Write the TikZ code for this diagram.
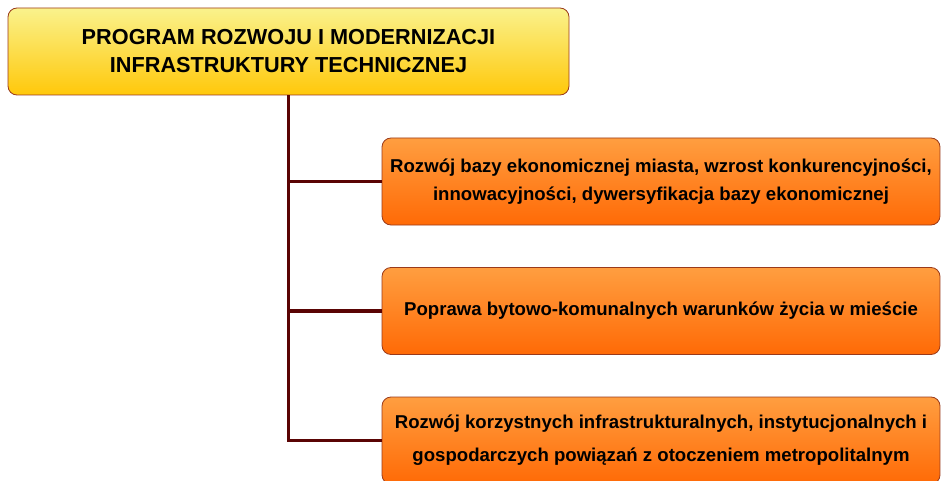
\documentclass[tikz,border=0pt]{standalone}
\usepackage{fontspec}
\setmainfont{Liberation Sans}
\usetikzlibrary{positioning}
\definecolor{progYellowTop}{HTML}{FAF28C}
\definecolor{progYellowBot}{HTML}{FFC80A}
\definecolor{progOrangeTop}{HTML}{FF9E40}
\definecolor{progOrangeBot}{HTML}{FF6A06}
\definecolor{progEdge}{HTML}{9A3A1A}
\definecolor{progLine}{HTML}{5A0404}
\tikzset{
  mainbox/.style = {rectangle, rounded corners=9pt, draw=progEdge, line width=0.8pt,
                    top color=progYellowTop, bottom color=progYellowBot,
                    minimum width=561pt, minimum height=87pt, align=center,
                    inner sep=0pt, font=\fontsize{21.7}{28}\selectfont\bfseries},
  goalbox/.style = {rectangle, rounded corners=9pt, draw=progEdge, line width=0.8pt,
                    top color=progOrangeTop, bottom color=progOrangeBot,
                    minimum width=558pt, minimum height=87pt, align=center,
                    inner sep=0pt, font=\fontsize{18.6}{27.5}\selectfont\bfseries},
  trunk/.style   = {draw=progLine, line width=3.3pt},
}
\begin{document}
\begin{tikzpicture}[x=1pt, y=-1pt]
\useasboundingbox (0,0) rectangle (941,481);
\clip (0,0) rectangle (941,481);

\node[mainbox] (prog) at (288.5,51.5) {PROGRAM ROZWOJU I MODERNIZACJI\\INFRASTRUKTURY TECHNICZNEJ};
\node[goalbox] (econ) at (661,181.5) {Rozwój bazy ekonomicznej miasta, wzrost konkurencyjności,\\innowacyjności, dywersyfikacja bazy ekonomicznej};
\node[goalbox] (life) at (661,311) {Poprawa bytowo-komunalnych warunków życia w mieście};
\node[goalbox, font=\fontsize{18.6}{33}\selectfont\bfseries] (metro) at (661,440.5) {Rozwój korzystnych infrastrukturalnych, instytucjonalnych i\\gospodarczych powiązań z otoczeniem metropolitalnym};

\draw[trunk] (prog.south) |- (metro.west);
\draw[trunk] (prog.south |- econ.west) -- (econ.west);
\draw[trunk] (prog.south |- life.west) -- (life.west);

\end{tikzpicture}
\end{document}
